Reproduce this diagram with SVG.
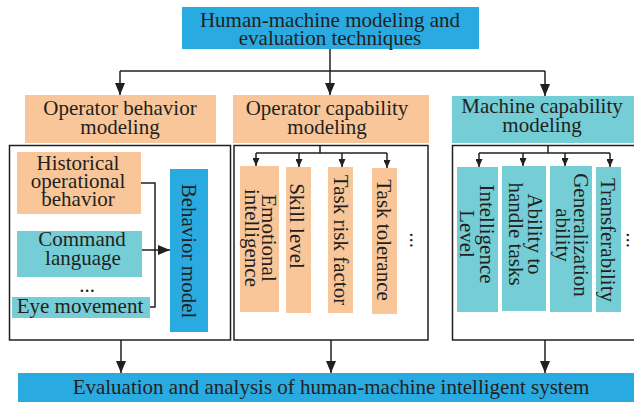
<svg xmlns="http://www.w3.org/2000/svg" width="634" height="402" viewBox="0 0 634 402">
<defs>
<style>
text{font-family:"Liberation Serif","Times New Roman",serif;font-size:21px;fill:#231f20;text-anchor:middle}
.blue{fill:#29abe2}
.peach{fill:#f9c69a}
.teal{fill:#75cdd5}
.frame{fill:none;stroke:#231f20;stroke-width:1.5}
.conn{fill:none;stroke:#231f20;stroke-width:1.5}
.big{marker-end:url(#ah)}
.sm{marker-end:url(#as)}
</style>
<marker id="ah" markerUnits="userSpaceOnUse" viewBox="0 0 12 10" markerWidth="12" markerHeight="10" refX="12" refY="5" orient="auto"><path d="M0,0 L12,5 L0,10 z" fill="#231f20"/></marker>
<marker id="as" markerUnits="userSpaceOnUse" viewBox="0 0 8 7" markerWidth="8" markerHeight="7" refX="8" refY="3.5" orient="auto"><path d="M0,0 L8,3.5 L0,7 z" fill="#231f20"/></marker>
</defs>
<rect width="634" height="402" fill="#ffffff"/>

<g id="title">
<rect class="blue" x="182" y="7" width="297" height="42"/>
<text x="330" y="27">Human-machine modeling and</text>
<text x="330" y="45">evaluation techniques</text>
</g>

<g id="op-behavior">
<rect class="peach" x="25" y="95" width="191" height="48"/>
<text x="120" y="115">Operator behavior</text>
<text x="120" y="134">modeling</text>
</g>
<g id="op-capability">
<rect class="peach" x="233" y="95" width="196" height="48"/>
<text x="327" y="115">Operator capability</text>
<text x="327" y="134">modeling</text>
</g>
<g id="machine-capability">
<rect class="teal" x="452" y="96" width="182" height="47"/>
<text x="542" y="113">Machine capability</text>
<text x="542" y="132">modeling</text>
</g>

<g id="frame-left"><rect class="frame" x="9.5" y="145.5" width="221" height="194.5"/></g>
<g id="frame-middle"><rect class="frame" x="234" y="145.5" width="194" height="194.5"/></g>
<g id="frame-right"><rect class="frame" x="452.5" y="145.5" width="190" height="194.5"/></g>

<g id="historical">
<rect class="peach" x="17" y="152" width="124" height="62"/>
<text x="78" y="170">Historical</text>
<text x="78" y="188">operational</text>
<text x="78" y="206">behavior</text>
</g>
<g id="command">
<rect class="teal" x="17" y="231" width="125" height="46"/>
<text x="82" y="246">Command</text>
<text x="83" y="265">language</text>
</g>
<g id="dots-left"><text x="87" y="292">...</text></g>
<g id="eye">
<rect class="teal" x="12" y="297" width="138" height="21"/>
<text x="80" y="313">Eye movement</text>
</g>
<g id="behavior-model">
<rect class="blue" x="170" y="169" width="38" height="163"/>
<text transform="translate(182,251) rotate(90)">Behavior model</text>
</g>

<g id="emotional">
<rect class="peach" x="240" y="166" width="39" height="146"/>
<text transform="translate(262,238) rotate(90)">Emotional<tspan x="0" dy="17">intelligence</tspan></text>
</g>
<g id="skill">
<rect class="peach" x="286" y="167" width="25" height="146"/>
<text transform="translate(290,226) rotate(90)">Skill level</text>
</g>
<g id="risk">
<rect class="peach" x="328" y="167" width="25" height="146"/>
<text transform="translate(334,240) rotate(90)">Task risk factor</text>
</g>
<g id="tolerance">
<rect class="peach" x="372" y="168" width="25" height="146"/>
<text transform="translate(377,240) rotate(90)">Task tolerance</text>
</g>
<g id="dots-middle"><text transform="translate(410,240) rotate(90)">...</text></g>

<g id="intelligence">
<rect class="teal" x="457" y="167" width="41" height="145"/>
<text transform="translate(480,234) rotate(90)">Intelligence<tspan x="0" dy="20">Level</tspan></text>
</g>
<g id="ability">
<rect class="teal" x="502" y="166" width="44" height="145"/>
<text transform="translate(528,234) rotate(90)">Ability to<tspan x="0" dy="19">handle tasks</tspan></text>
</g>
<g id="generalization">
<rect class="teal" x="550" y="166" width="42" height="146"/>
<text transform="translate(574,235) rotate(90)">Generalization<tspan x="0" dy="18">ability</tspan></text>
</g>
<g id="transferability">
<rect class="teal" x="596" y="167" width="25" height="145"/>
<text transform="translate(601,240) rotate(90)">Transferability</text>
</g>
<g id="dots-right"><text transform="translate(629,240) rotate(-90)">...</text></g>

<g id="evaluation">
<rect class="blue" x="18" y="373" width="616" height="29"/>
<text x="331" y="394">Evaluation and analysis of human-machine intelligent system</text>
</g>

<g id="connectors">
<path class="conn big" d="M330,49 V95"/>
<path class="conn" d="M120,71 H545"/>
<path class="conn big" d="M120,71 V95"/>
<path class="conn big" d="M545,71 V96"/>
<path class="conn" d="M141,183 H155 V307 H150"/>
<path class="conn big" d="M142,250 H170"/>
<path class="conn" d="M320,145 V153 M256,153 H387"/>
<path class="conn sm" d="M256,153 V166"/>
<path class="conn sm" d="M299,153 V167"/>
<path class="conn sm" d="M342,153 V167"/>
<path class="conn sm" d="M387,153 V168"/>
<path class="conn" d="M548,145 V153 M479,153 H610"/>
<path class="conn sm" d="M479,153 V167"/>
<path class="conn sm" d="M523,153 V166"/>
<path class="conn sm" d="M565,153 V166"/>
<path class="conn sm" d="M610,153 V167"/>
<path class="conn big" d="M121,340 V373"/>
<path class="conn big" d="M331,340 V373"/>
<path class="conn big" d="M545,340 V373"/>
</g>
</svg>
